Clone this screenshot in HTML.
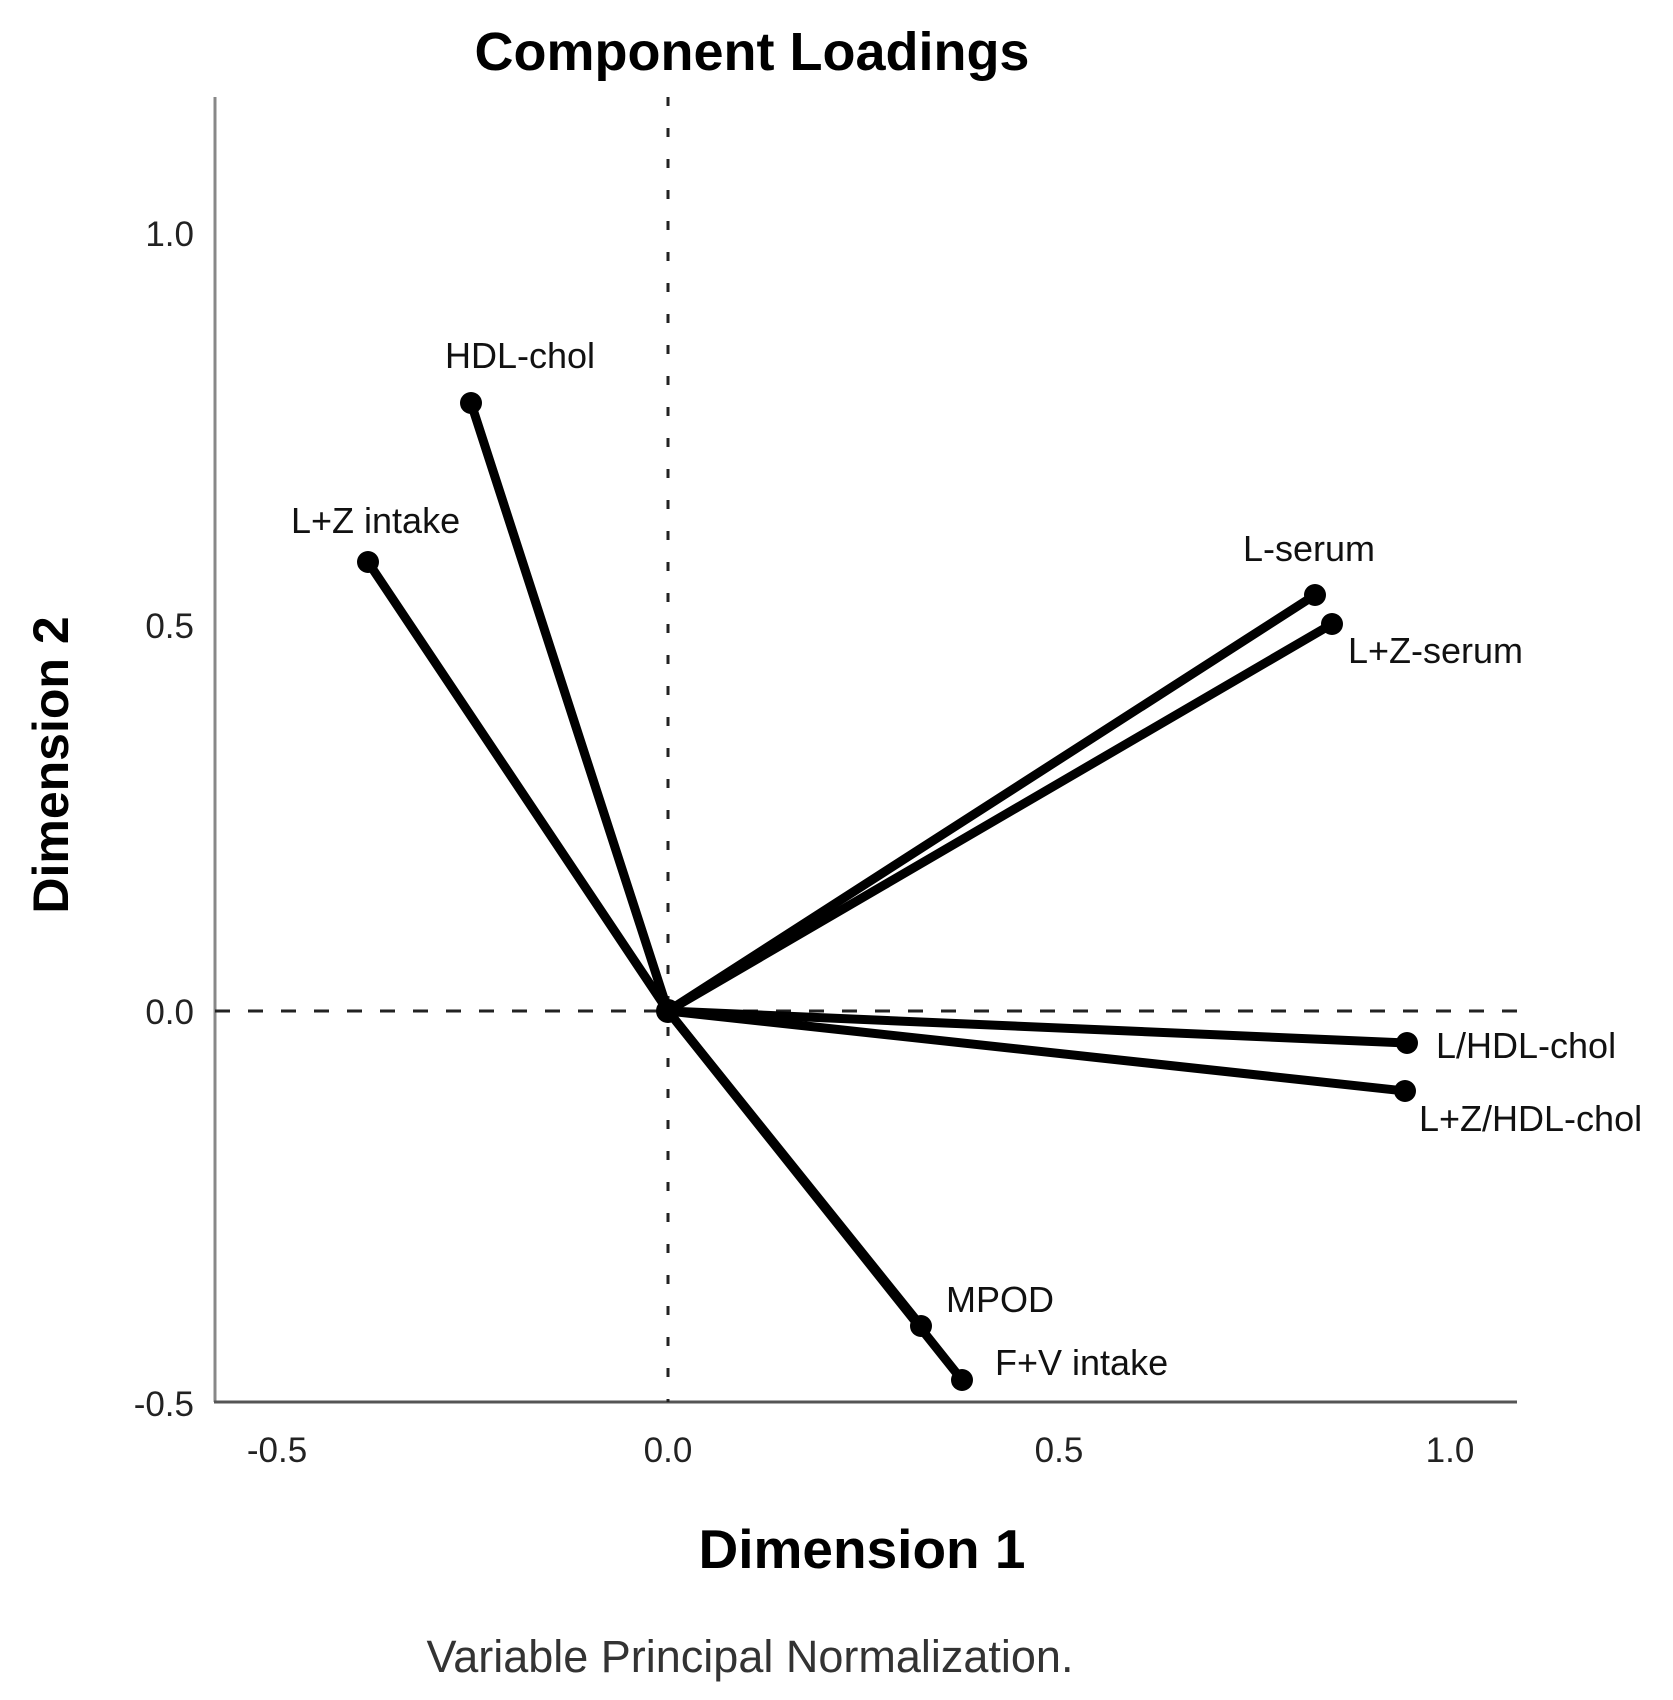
<!DOCTYPE html>
<html><head><meta charset="utf-8"><style>body{margin:0;background:#fff}svg{display:block}</style></head>
<body>
<svg width="1673" height="1700" viewBox="0 0 1673 1700" xmlns="http://www.w3.org/2000/svg" font-family="Liberation Sans, Arial, sans-serif">
<rect width="1673" height="1700" fill="#fff"/>
<text x="752" y="70" font-size="54" font-weight="bold" text-anchor="middle">Component Loadings</text>
<line x1="215" y1="97" x2="215" y2="1402" stroke="#888" stroke-width="3"/>
<line x1="214" y1="1402" x2="1517" y2="1402" stroke="#555" stroke-width="3"/>
<line x1="668" y1="97" x2="668" y2="1402" stroke="#222" stroke-width="3" stroke-dasharray="9,22"/>
<line x1="215" y1="1011" x2="1517" y2="1011" stroke="#222" stroke-width="3" stroke-dasharray="15,18"/>
<g font-size="35" fill="#222" text-anchor="end">
<text x="194" y="246">1.0</text><text x="194" y="638">0.5</text><text x="194" y="1024">0.0</text><text x="194" y="1416">-0.5</text>
</g>
<g font-size="35" fill="#222" text-anchor="middle">
<text x="277" y="1462">-0.5</text><text x="668" y="1462">0.0</text><text x="1059" y="1462">0.5</text><text x="1450" y="1462">1.0</text>
</g>
<text x="862" y="1568" font-size="55" font-weight="bold" text-anchor="middle">Dimension 1</text>
<text transform="translate(68,765) rotate(-90)" font-size="50" font-weight="bold" text-anchor="middle">Dimension 2</text>
<text x="750" y="1672" font-size="45" fill="#333" text-anchor="middle">Variable Principal Normalization.</text>
<g stroke="#000" stroke-width="9" stroke-linecap="round">
<line x1="668" y1="1011" x2="471" y2="403"/>
<line x1="668" y1="1011" x2="368" y2="562"/>
<line x1="668" y1="1011" x2="1315" y2="595"/>
<line x1="668" y1="1011" x2="1332" y2="624"/>
<line x1="668" y1="1011" x2="1407" y2="1043"/>
<line x1="668" y1="1011" x2="1405" y2="1091"/>
<line x1="668" y1="1011" x2="921" y2="1326"/>
<line x1="668" y1="1011" x2="962" y2="1380"/>
</g>
<g fill="#000">
<circle cx="668" cy="1011" r="12"/>
<circle cx="471" cy="403" r="11"/><circle cx="368" cy="562" r="11"/>
<circle cx="1315" cy="595" r="11"/><circle cx="1332" cy="624" r="11"/>
<circle cx="1407" cy="1043" r="11"/><circle cx="1405" cy="1091" r="11"/>
<circle cx="921" cy="1326" r="11"/><circle cx="962" cy="1380" r="11"/>
</g>
<g font-size="36" fill="#111">
<text x="445" y="368">HDL-chol</text>
<text x="291" y="533">L+Z intake</text>
<text x="1243" y="561">L-serum</text>
<text x="1348" y="663">L+Z-serum</text>
<text x="1436" y="1058">L/HDL-chol</text>
<text x="1419" y="1131">L+Z/HDL-chol</text>
<text x="946" y="1312">MPOD</text>
<text x="995" y="1375">F+V intake</text>
</g>
</svg>
</body></html>
